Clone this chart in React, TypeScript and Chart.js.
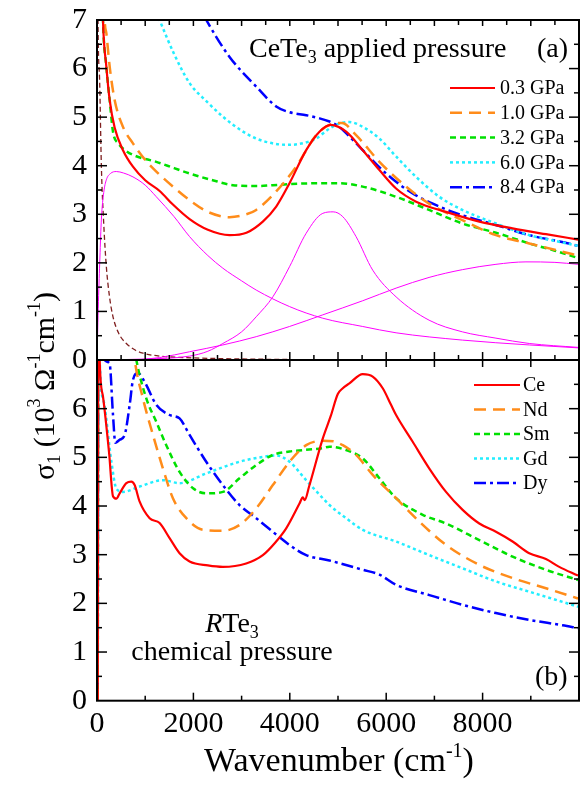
import React, { useEffect, useRef } from 'react';
import { Chart, registerables } from 'chart.js';

Chart.register(...registerables);

const FONT = "'Liberation Serif', 'Times New Roman', serif";

// ---------- axis ticks / labels ----------
const X_TICKS = [0, 2000, 4000, 6000, 8000];
const Y_TICKS_TOP = [0, 1, 2, 3, 4, 5, 6, 7];
const Y_TICKS_BOTTOM = [0, 1, 2, 3, 4, 5, 6];

// ---------- panel (a): CeTe3 under applied pressure ----------
const p03X = [20, 124, 194, 263, 367, 539, 746, 1000, 1300, 1575, 1921, 2300, 2750, 3100, 3440, 3718, 3994, 4340, 4616, 4850, 5169, 5513, 5859, 6205, 6620, 7241, 7932, 8622, 9314, 9980];
const p03Y = [12, 7.0, 6.04, 5.35, 4.78, 4.32, 3.98, 3.7, 3.48, 3.2, 2.9, 2.68, 2.57, 2.62, 2.85, 3.16, 3.64, 4.32, 4.70, 4.84, 4.70, 4.32, 3.91, 3.53, 3.26, 3.05, 2.85, 2.71, 2.59, 2.48];

const p10X = [30, 160, 194, 263, 367, 539, 746, 1000, 1231, 1600, 1921, 2300, 2750, 3100, 3303, 3718, 4132, 4547, 4823, 5080, 5375, 5859, 6412, 6889, 7580, 8277, 8968, 9658, 9980];
const p10Y = [12, 7.0, 6.73, 6.04, 5.35, 4.80, 4.46, 4.12, 3.88, 3.55, 3.29, 3.05, 2.94, 3.0, 3.09, 3.47, 3.98, 4.63, 4.84, 4.88, 4.63, 4.08, 3.57, 3.22, 2.88, 2.57, 2.40, 2.23, 2.15];

const p32X = [20, 124, 194, 263, 332, 450, 609, 800, 1231, 1600, 1921, 2400, 2819, 3300, 3648, 4200, 4685, 5000, 5513, 6205, 6889, 7580, 8277, 8968, 9500, 9980];
const p32Y = [12, 7.0, 6.04, 5.35, 4.7, 4.45, 4.3, 4.2, 4.08, 3.95, 3.84, 3.7, 3.60, 3.58, 3.60, 3.63, 3.64, 3.64, 3.57, 3.36, 3.09, 2.81, 2.62, 2.40, 2.25, 2.10];

const p60X = [1100, 1299, 1600, 1921, 2300, 2611, 3000, 3303, 3700, 3994, 4300, 4547, 4800, 5000, 5237, 5513, 5859, 6205, 6620, 7101, 7580, 8277, 8968, 9658, 9980];
const p60Y = [7.5, 7.0, 6.3, 5.70, 5.3, 5.01, 4.72, 4.56, 4.45, 4.43, 4.47, 4.56, 4.75, 4.86, 4.90, 4.80, 4.56, 4.19, 3.77, 3.36, 3.09, 2.81, 2.57, 2.42, 2.35];

const p84X = [2000, 2267, 2750, 3303, 3718, 4000, 4340, 4600, 4823, 5000, 5169, 5513, 5997, 6550, 7101, 7580, 8277, 8968, 9600, 9980];
const p84Y = [7.5, 7.0, 6.24, 5.63, 5.22, 5.10, 5.04, 4.98, 4.91, 4.82, 4.67, 4.32, 3.84, 3.43, 3.16, 2.98, 2.78, 2.57, 2.44, 2.35];

// fit components (Drude + Lorentz oscillators)
const drudeX = [10, 21, 56, 91, 140, 194, 260, 332, 450, 609, 800, 953, 1300, 1800, 2500, 3500, 4500];
const drudeY = [9, 7.0, 5.7, 3.98, 2.8, 1.92, 1.3, 0.89, 0.55, 0.34, 0.2, 0.14, 0.08, 0.05, 0.03, 0.015, 0.005];

const lor1X = [0, 30, 60, 91, 140, 194, 280, 401, 550, 746, 1000, 1231, 1600, 1921, 2300, 2611, 3000, 3303, 3994, 4685, 5513, 6205, 7580, 8968, 9980];
const lor1Y = [0, 1.2, 2.1, 2.9, 3.45, 3.71, 3.84, 3.88, 3.85, 3.77, 3.6, 3.36, 2.95, 2.54, 2.15, 1.89, 1.63, 1.44, 1.10, 0.86, 0.69, 0.56, 0.41, 0.31, 0.25];

const lor2X = [0, 1000, 1921, 2300, 2611, 3000, 3303, 3648, 3994, 4340, 4685, 4900, 5100, 5375, 5720, 6205, 6889, 7580, 8277, 8968, 9980];
const lor2Y = [0, 0.02, 0.08, 0.18, 0.34, 0.58, 0.89, 1.30, 1.92, 2.61, 3.02, 3.05, 2.95, 2.54, 1.85, 1.30, 0.82, 0.58, 0.45, 0.34, 0.26];

const lor3X = [800, 1300, 1921, 2611, 3303, 3994, 4685, 5513, 6205, 6889, 7580, 8277, 8900, 9500, 9980];
const lor3Y = [0, 0.05, 0.17, 0.31, 0.48, 0.69, 0.93, 1.22, 1.48, 1.70, 1.86, 1.97, 2.02, 2.01, 1.97];

// ---------- panel (b): RTe3 chemical pressure ----------
const ceX = [15, 30, 56, 124, 250, 332, 401, 470, 609, 712, 781, 885, 1092, 1299, 1506, 1713, 1921, 2300, 2611, 3095, 3441, 3700, 3925, 4201, 4270, 4310, 4400, 4685, 4850, 4996, 5099, 5237, 5513, 5720, 5928, 6100, 6205, 6550, 6895, 7241, 7586, 7932, 8277, 8622, 8968, 9314, 9590, 9980];
const ceY = [0, 9, 7.0, 6.25, 5.1, 4.2, 4.15, 4.26, 4.47, 4.50, 4.43, 4.09, 3.75, 3.65, 3.34, 3.03, 2.86, 2.78, 2.75, 2.82, 2.99, 3.25, 3.54, 4.05, 4.18, 4.12, 4.4, 5.39, 5.85, 6.30, 6.42, 6.52, 6.71, 6.66, 6.42, 6.08, 5.87, 5.32, 4.77, 4.29, 3.92, 3.64, 3.47, 3.27, 3.03, 2.91, 2.75, 2.57];

const ndX = [15, 30, 400, 700, 783, 953, 1161, 1368, 1575, 1853, 2197, 2611, 2957, 3303, 3648, 3994, 4340, 4685, 4900, 5099, 5375, 5720, 6205, 6688, 7241, 7932, 8622, 9314, 9980];
const ndY = [0, 12, 9, 7.8, 7.0, 6.21, 5.46, 4.77, 4.16, 3.75, 3.51, 3.49, 3.61, 3.95, 4.43, 4.91, 5.25, 5.34, 5.33, 5.25, 5.05, 4.64, 4.16, 3.68, 3.20, 2.79, 2.52, 2.31, 2.10];

const smX = [15, 30, 400, 720, 816, 1023, 1230, 1437, 1713, 2000, 2266, 2611, 2957, 3303, 3648, 3994, 4685, 4823, 5168, 5513, 5859, 6205, 6757, 7241, 7932, 8622, 9314, 9980];
const smY = [0, 12, 9, 7.6, 7.0, 6.21, 5.73, 5.25, 4.70, 4.36, 4.26, 4.29, 4.57, 4.84, 5.05, 5.12, 5.19, 5.22, 5.15, 4.98, 4.57, 4.16, 3.82, 3.64, 3.30, 2.96, 2.69, 2.48];

const gdX = [15, 30, 56, 150, 300, 401, 539, 885, 1368, 1713, 2266, 2957, 3441, 3717, 3994, 4340, 4685, 4823, 5168, 5513, 6205, 6895, 7586, 8277, 8968, 9658, 9980];
const gdY = [0, 9, 7.0, 6.1, 4.9, 4.36, 4.29, 4.40, 4.53, 4.47, 4.67, 4.91, 5.01, 5.04, 4.91, 4.53, 4.16, 4.02, 3.75, 3.51, 3.27, 2.99, 2.72, 2.45, 2.24, 2.03, 1.93];

const dyX = [15, 30, 160, 261, 330, 380, 470, 574, 678, 746, 850, 989, 1230, 1506, 1713, 1921, 2266, 2611, 2957, 3303, 3648, 3994, 4340, 4823, 5513, 5859, 6205, 6895, 7586, 8277, 8968, 9658, 9980];
const dyY = [0, 9, 7.0, 6.93, 5.9, 5.30, 5.36, 5.46, 6.08, 6.59, 6.73, 6.55, 6.08, 5.87, 5.80, 5.46, 4.91, 4.43, 4.02, 3.75, 3.47, 3.20, 2.99, 2.88, 2.69, 2.59, 2.38, 2.17, 1.97, 1.80, 1.66, 1.55, 1.49];

const pts = (xs: number[], ys: number[]) => xs.map((x, i) => ({ x, y: ys[i] }));

type Seg = { t: string; s?: number; dy?: number; it?: boolean };

function drawRich(ctx: CanvasRenderingContext2D, segs: Seg[], x: number, y: number, align: 'left' | 'center', base: number) {
  const fontOf = (sg: Seg) => `${sg.it ? 'italic ' : ''}${sg.s ?? base}px ${FONT}`;
  let w = 0;
  for (const sg of segs) {
    ctx.font = fontOf(sg);
    w += ctx.measureText(sg.t).width;
  }
  let cx = align === 'center' ? x - w / 2 : x;
  ctx.textAlign = 'left';
  ctx.textBaseline = 'alphabetic';
  ctx.fillStyle = '#000';
  for (const sg of segs) {
    ctx.font = fontOf(sg);
    ctx.fillText(sg.t, cx, y + (sg.dy ?? 0));
    cx += ctx.measureText(sg.t).width;
  }
}

type TickSpec = { step: number; major: number; minorLen: number; majorLen: number };

function frameTicksPlugin(top: TickSpec, bottom: TickSpec) {
  return {
    id: 'frameTicks',
    afterDatasetsDraw(chart: any) {
      const { ctx, chartArea: a, scales } = chart;
      const xs = scales.x;
      const ys = scales.y;
      ctx.save();
      ctx.strokeStyle = '#000';
      ctx.lineWidth = 1.5;
      const line = (x1: number, y1: number, x2: number, y2: number) => {
        ctx.beginPath();
        ctx.moveTo(x1, y1);
        ctx.lineTo(x2, y2);
        ctx.stroke();
      };
      for (let v = 0.5; v < ys.max; v += 0.5) {
        const py = ys.getPixelForValue(v);
        const len = Math.abs(v - Math.round(v)) < 1e-6 ? 10 : 5;
        line(a.left, py, a.left + len, py);
        line(a.right, py, a.right - len, py);
      }
      for (let v = top.step; v < xs.max; v += top.step) {
        const px = xs.getPixelForValue(v);
        const len = v % top.major === 0 ? top.majorLen : top.minorLen;
        line(px, a.top, px, a.top + len);
      }
      for (let v = bottom.step; v < xs.max; v += bottom.step) {
        const px = xs.getPixelForValue(v);
        const len = v % bottom.major === 0 ? bottom.majorLen : bottom.minorLen;
        line(px, a.bottom, px, a.bottom - len);
      }
      ctx.lineWidth = 2;
      ctx.strokeRect(a.left, a.top, a.right - a.left, a.bottom - a.top);
      ctx.restore();
    },
  };
}

function legendPlugin(x1: number, x2: number, tx: number, y0: number, dy: number) {
  return {
    id: 'customLegend',
    afterDraw(chart: any) {
      const ctx = chart.ctx;
      let i = 0;
      chart.data.datasets.forEach((ds: any) => {
        if (!ds.label) return;
        const y = y0 + i * dy;
        ctx.save();
        ctx.strokeStyle = ds.borderColor;
        ctx.lineWidth = ds.borderWidth;
        ctx.setLineDash(ds.borderDash || []);
        ctx.beginPath();
        ctx.moveTo(x1, y);
        ctx.lineTo(x2, y);
        ctx.stroke();
        ctx.setLineDash([]);
        ctx.fillStyle = '#000';
        ctx.font = `20px ${FONT}`;
        ctx.textAlign = 'left';
        ctx.textBaseline = 'middle';
        ctx.fillText(ds.label, tx, y + 1);
        ctx.restore();
        i++;
      });
    },
  };
}

const topTextPlugin = {
  id: 'topText',
  afterDraw(chart: any) {
    const ctx = chart.ctx;
    ctx.save();
    drawRich(ctx, [{ t: 'CeTe' }, { t: '3', s: 18, dy: 6 }, { t: ' applied pressure' }], 249, 57, 'left', 28);
    drawRich(ctx, [{ t: '(a)' }], 537, 57, 'left', 28);
    // shared y-axis title
    ctx.translate(54, 386);
    ctx.rotate(-Math.PI / 2);
    drawRich(
      ctx,
      [
        { t: 'σ' },
        { t: '1', s: 18, dy: 6 },
        { t: ' (10' },
        { t: '3', s: 18, dy: -14 },
        { t: ' Ω' },
        { t: '-1', s: 18, dy: -14 },
        { t: 'cm' },
        { t: '-1', s: 18, dy: -14 },
        { t: ')' },
      ],
      0,
      0,
      'center',
      30
    );
    ctx.restore();
  },
};

const bottomTextPlugin = {
  id: 'bottomText',
  afterDraw(chart: any) {
    const ctx = chart.ctx;
    ctx.save();
    drawRich(ctx, [{ t: 'R', it: true }, { t: 'Te' }, { t: '3', s: 18, dy: 6 }], 232, 632, 'center', 28);
    drawRich(ctx, [{ t: 'chemical pressure' }], 232, 660, 'center', 28);
    drawRich(ctx, [{ t: '(b)' }], 535, 685, 'left', 28);
    drawRich(ctx, [{ t: 'Wavenumber (cm' }, { t: '-1', s: 20, dy: -14 }, { t: ')' }], 339, 771, 'center', 34);
    ctx.restore();
  },
};

const lineDs = (label: string, data: any[], color: string, width: number, dash: number[]) => ({
  label,
  data,
  borderColor: color,
  backgroundColor: color,
  borderWidth: width,
  borderDash: dash,
  pointRadius: 0,
  fill: false,
  cubicInterpolationMode: 'monotone' as const,
});

function makeOptions(showX: boolean, padTop: number, padBottom: number, yTicks: number[]) {
  return {
    responsive: false,
    animation: false as const,
    events: [],
    layout: { padding: { top: padTop, bottom: padBottom, left: 0, right: 3 } },
    plugins: { legend: { display: false }, tooltip: { enabled: false }, title: { display: false } },
    scales: {
      x: {
        type: 'linear' as const,
        min: 0,
        max: 10000,
        display: showX,
        grid: { display: false, drawTicks: false },
        border: { display: false },
        afterBuildTicks: (s: any) => {
          s.ticks = X_TICKS.map((v) => ({ value: v }));
        },
        ticks: {
          font: { family: FONT, size: 30 },
          color: '#000',
          padding: 5,
          maxRotation: 0,
          autoSkip: false,
          callback: (v: any) => String(v),
        },
        afterFit: (s: any) => {
          if (showX) s.height = 84.3;
          s.paddingLeft = 0;
          s.paddingRight = 0;
        },
      },
      y: {
        type: 'linear' as const,
        min: 0,
        max: 7,
        grid: { display: false, drawTicks: false },
        border: { display: false },
        afterBuildTicks: (s: any) => {
          s.ticks = yTicks.map((v) => ({ value: v }));
        },
        ticks: {
          font: { family: FONT, size: 30 },
          color: '#000',
          padding: 10,
          autoSkip: false,
          callback: (v: any) => String(v),
        },
        afterFit: (s: any) => {
          s.width = 97;
          s.paddingTop = 0;
          s.paddingBottom = 0;
        },
      },
    },
  };
}

export default function App() {
  const topRef = useRef<HTMLCanvasElement>(null);
  const botRef = useRef<HTMLCanvasElement>(null);

  useEffect(() => {
    const topChart = new Chart(topRef.current as HTMLCanvasElement, {
      type: 'line',
      data: {
        datasets: [
          lineDs('0.3 GPa', pts(p03X, p03Y), '#FF0000', 2.2, []),
          lineDs('1.0 GPa', pts(p10X, p10Y), '#FF8C1A', 2.5, [12, 7]),
          lineDs('3.2 GPa', pts(p32X, p32Y), '#00E000', 2.5, [6, 4]),
          lineDs('6.0 GPa', pts(p60X, p60Y), '#22EEFF', 2.5, [3, 3]),
          lineDs('8.4 GPa', pts(p84X, p84Y), '#0000FF', 2.5, [12, 4, 3, 4]),
          lineDs('', pts(lor1X, lor1Y), '#FF00FF', 1, []),
          lineDs('', pts(lor2X, lor2Y), '#FF00FF', 1, []),
          lineDs('', pts(lor3X, lor3Y), '#FF00FF', 1, []),
          lineDs('', pts(drudeX, drudeY), '#7F1F1F', 1.3, [5, 3]),
        ],
      },
      options: makeOptions(false, 20, 425, Y_TICKS_TOP) as any,
      plugins: [
        frameTicksPlugin(
          { step: 500, major: 1000, minorLen: 5, majorLen: 6 },
          { step: 500, major: 1000, minorLen: 5, majorLen: 8 }
        ),
        legendPlugin(450, 495, 500, 88, 24.8),
        topTextPlugin,
      ],
    });

    const botChart = new Chart(botRef.current as HTMLCanvasElement, {
      type: 'line',
      data: {
        datasets: [
          lineDs('Ce', pts(ceX, ceY), '#FF0000', 2.2, []),
          lineDs('Nd', pts(ndX, ndY), '#FF8C1A', 2.5, [12, 7]),
          lineDs('Sm', pts(smX, smY), '#00E000', 2.5, [6, 4]),
          lineDs('Gd', pts(gdX, gdY), '#22EEFF', 2.5, [3, 3]),
          lineDs('Dy', pts(dyX, dyY), '#0000FF', 2.5, [12, 4, 3, 4]),
        ],
      },
      options: makeOptions(true, 360, 0, Y_TICKS_BOTTOM) as any,
      plugins: [
        frameTicksPlugin(
          { step: 1000, major: 1000, minorLen: 7, majorLen: 7 },
          { step: 1000, major: 2000, minorLen: 5, majorLen: 8 }
        ),
        legendPlugin(474, 520, 523, 385, 24.5),
        bottomTextPlugin,
      ],
    });

    return () => {
      topChart.destroy();
      botChart.destroy();
    };
  }, []);

  const cStyle: React.CSSProperties = { position: 'absolute', left: 0, top: 0, width: 582, height: 785 };
  return (
    <div style={{ position: 'absolute', left: 0, top: 0, width: 582, height: 785, background: '#fff' }}>
      <canvas ref={topRef} width={582} height={785} style={cStyle} />
      <canvas ref={botRef} width={582} height={785} style={cStyle} />
    </div>
  );
}
